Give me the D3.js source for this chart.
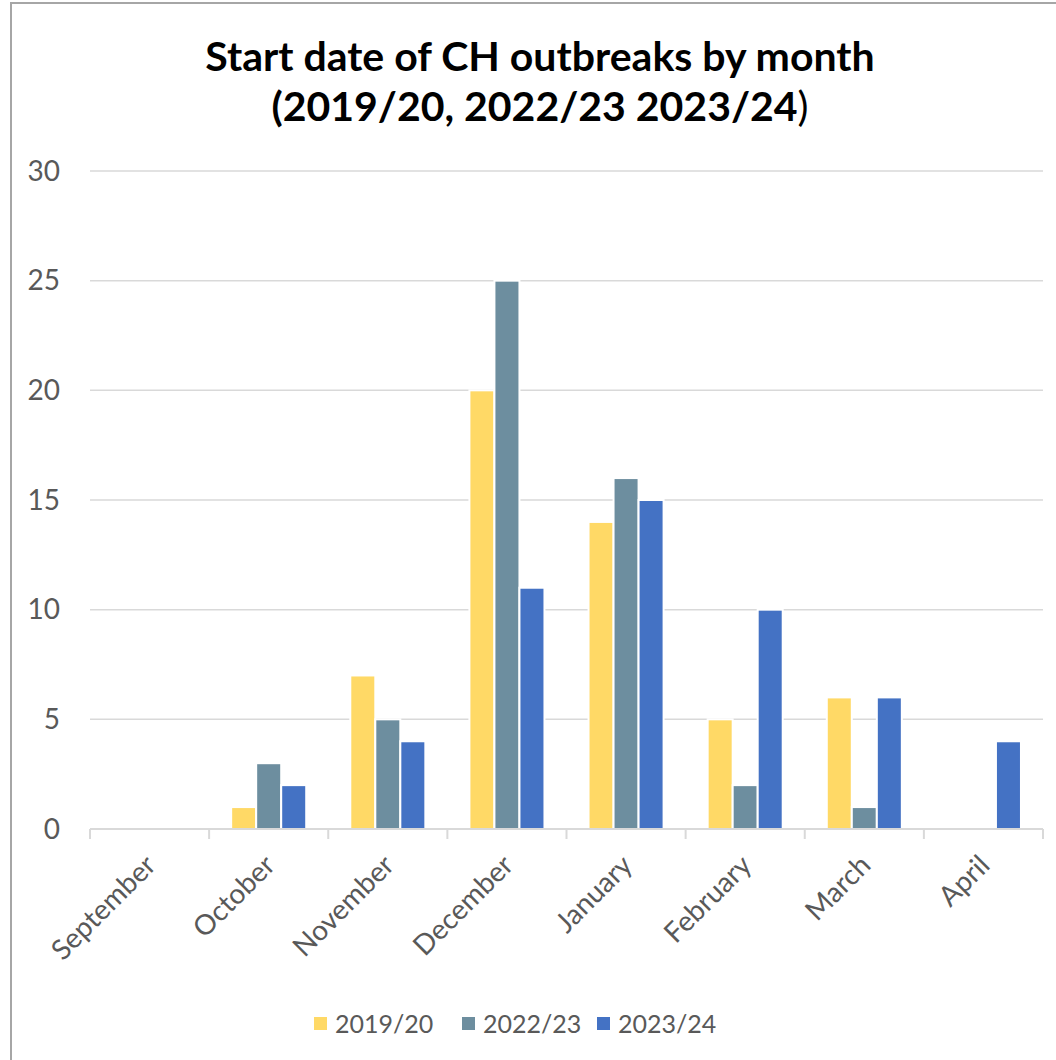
<!DOCTYPE html>
<html>
<head>
<meta charset="utf-8">
<script src="https://cdn.jsdelivr.net/npm/d3@7"></script>
<style>
  body { margin: 0; background: #fff; }
  svg { display: block; font-family: Lato, "Open Sans", sans-serif; }
</style>
</head>
<body>
<svg id="chart"></svg>
<script>
const months = ['September', 'October', 'November', 'December', 'January', 'February', 'March', 'April'];
const seasons = ['2019/20', '2022/23', '2023/24'];
const values2019 = [0, 1, 7, 20, 14, 5, 6, 0];
const values2022 = [0, 3, 5, 25, 16, 2, 1, 0];
const values2023 = [0, 2, 4, 11, 15, 10, 6, 4];
const yTicks = [0, 5, 10, 15, 20, 25, 30];
const colors = ['#FFD966', '#6D8E9F', '#4472C4'];

const width = 1056, height = 1060;
const margin = { top: 171, right: 13, bottom: 231, left: 90 };

const svg = d3.select('#chart').attr('width', width).attr('height', height);

// chart frame (cropped at right / bottom like the reference)
svg.append('rect')
    .attr('x', 11).attr('y', 3)
    .attr('width', 1200).attr('height', 1200)
    .attr('fill', 'none')
    .attr('stroke', '#a6a6a6')
    .attr('stroke-width', 2);

// Title
const title = svg.append('text')
    .attr('text-anchor', 'middle')
    .attr('font-weight', 700)
    .attr('font-size', '41px')
    .attr('fill', '#000');
title.append('tspan').attr('x', 540).attr('y', 71).text('Start date of CH outbreaks by month');
const t2 = title.append('tspan').attr('x', 540).attr('y', 121);
t2.append('tspan').text('(2019/20, 2022/23 2023/24');
t2.append('tspan').attr('font-weight', 400).text(')');

const x0 = d3.scaleBand()
    .domain(months)
    .range([margin.left, width - margin.right])
    .paddingInner(0.37)
    .paddingOuter(0.185);

const x1 = d3.scaleBand()
    .domain(seasons)
    .range([0, x0.bandwidth()]);

const y = d3.scaleLinear()
    .domain([0, 30])
    .range([height - margin.bottom, margin.top]);

// gridlines
svg.append('g')
    .selectAll('line')
    .data(yTicks.filter(d => d > 0))
    .join('line')
    .attr('x1', margin.left).attr('x2', width - margin.right)
    .attr('y1', d => y(d)).attr('y2', d => y(d))
    .attr('stroke', '#d9d9d9')
    .attr('stroke-width', 1.5);

// y tick labels
svg.append('g')
    .selectAll('text')
    .data(yTicks)
    .join('text')
    .attr('x', 60)
    .attr('y', d => y(d))
    .attr('dy', '0.35em')
    .attr('text-anchor', 'end')
    .attr('font-size', '28px')
    .attr('fill', '#595959')
    .text(d => d);

// bars
const series = [values2019, values2022, values2023];
const barData = [];
months.forEach((m, i) => {
    seasons.forEach((s, j) => {
        if (series[j][i] > 0) barData.push({ month: m, season: s, value: series[j][i], color: colors[j] });
    });
});

svg.append('g')
    .selectAll('rect')
    .data(barData)
    .join('rect')
    .attr('x', d => x0(d.month) + x1(d.season))
    .attr('y', d => y(d.value))
    .attr('width', x1.bandwidth())
    .attr('height', d => y(0) - y(d.value))
    .attr('fill', d => d.color)
    .attr('stroke', '#fff')
    .attr('stroke-width', 2);

// x axis line and ticks at category boundaries
const step = x0.step();
const axisY = y(0);
svg.append('line')
    .attr('x1', margin.left).attr('x2', width - margin.right)
    .attr('y1', axisY).attr('y2', axisY)
    .attr('stroke', '#d9d9d9')
    .attr('stroke-width', 2);

const boundaries = d3.range(months.length + 1).map(i => margin.left + i * step);
svg.append('g')
    .selectAll('line')
    .data(boundaries)
    .join('line')
    .attr('x1', d => d).attr('x2', d => d)
    .attr('y1', axisY).attr('y2', axisY + 10)
    .attr('stroke', '#d9d9d9')
    .attr('stroke-width', 2);

// x labels, rotated
svg.append('g')
    .selectAll('text')
    .data(months)
    .join('text')
    .attr('transform', d => `translate(${x0(d) + x0.bandwidth() / 2 + 8},${axisY + 38}) rotate(-45)`)
    .attr('text-anchor', 'end')
    .attr('font-size', '28px')
    .attr('fill', '#595959')
    .text(d => d);

// legend
const legendItems = [
    { label: seasons[0], color: colors[0], x: 314 },
    { label: seasons[1], color: colors[1], x: 462 },
    { label: seasons[2], color: colors[2], x: 597 }
];
const legend = svg.append('g');
legendItems.forEach(item => {
    legend.append('rect')
        .attr('x', item.x).attr('y', 1017)
        .attr('width', 13).attr('height', 13)
        .attr('fill', item.color);
    legend.append('text')
        .attr('x', item.x + 21).attr('y', 1024)
        .attr('dy', '0.35em')
        .attr('font-size', '25px')
        .attr('fill', '#595959')
        .text(item.label);
});
</script>
</body>
</html>
